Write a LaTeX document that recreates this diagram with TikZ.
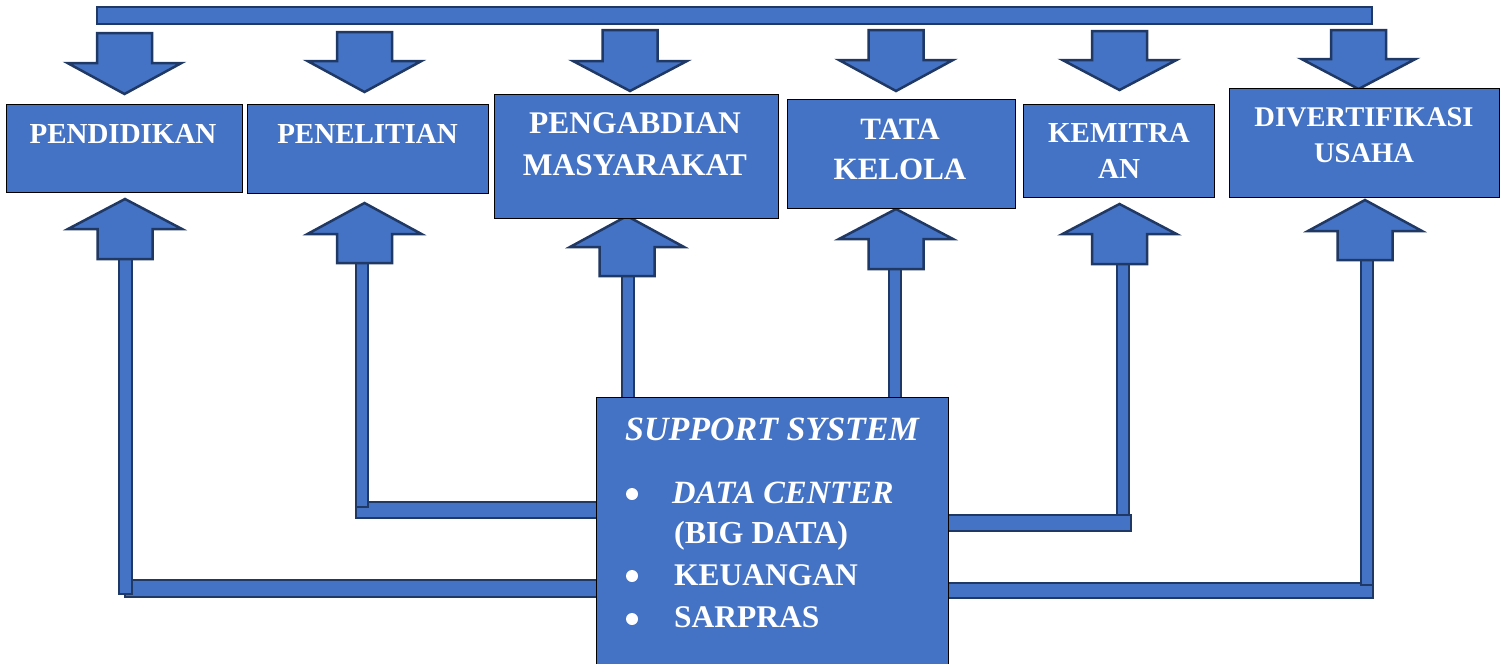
\documentclass[tikz,border=0pt]{standalone}
\usepackage{fontspec}
\setmainfont{Liberation Serif}
\definecolor{fillblue}{HTML}{4472C4}
\definecolor{navy}{HTML}{1F3864}
\tikzset{
  blockarrow/.style={fill=fillblue, draw=navy, line width=2.5pt, line join=miter},
  pipe/.style={fill=fillblue, draw=navy, line width=2pt},
  box/.style={fill=fillblue, draw=black, line width=1.2pt, inner sep=0pt, anchor=north west},
  lbl/.style={text=white, inner sep=0pt, anchor=base, font=\bfseries},
  lblw/.style={text=white, inner sep=0pt, anchor=base west, font=\bfseries},
  bulletdot/.style={circle, fill=white, inner sep=0pt, minimum size=12pt},
}
% block arrow: centre x, tail y, wing y, tip y
\newcommand\blockarr[4]{\draw[blockarrow] ({#1-27.5},#2) -- ({#1+27.5},#2) -- ({#1+27.5},#3) -- ({#1+57},#3) -- (#1,#4) -- ({#1-57},#3) -- ({#1-27.5},#3) -- cycle;}
\newcommand\fs[1]{\fontsize{#1}{#1}\selectfont}
\begin{document}
\begin{tikzpicture}[x=1pt,y=-1pt]
\useasboundingbox (0,0) rectangle (1505,664);
\clip (0,0) rectangle (1505,664);

% top bar
\draw[pipe, line width=2.5pt] (97,7) rectangle (1372,24);

% down arrows
\blockarr{124.5}{33}{63}{94}
\blockarr{364.5}{32}{61}{92}
\blockarr{630}{30}{61}{91}
\blockarr{896}{30}{60}{91}
\blockarr{1119.5}{31}{60}{90}
\blockarr{1358.5}{30}{59}{89}

% horizontal pipes
\draw[pipe] (125,580) rectangle (597,597);
\draw[pipe] (356,502) rectangle (597,518);
\draw[pipe] (948,515) rectangle (1131,531);
\draw[pipe] (948,583) rectangle (1373,598);
% vertical pipes
\draw[pipe] (119,259) rectangle (132,594);
\draw[pipe] (356,263) rectangle (368,507);
\draw[pipe] (622,276) rectangle (634,400);
\draw[pipe] (889,269) rectangle (901,400);
\draw[pipe] (1117,264) rectangle (1129,515);
\draw[pipe] (1361,260) rectangle (1373,585);

% up arrows
\blockarr{125}{259}{229}{199}
\blockarr{364.5}{263}{234}{203}
\blockarr{627}{276}{247}{216}
\blockarr{896}{269}{239}{209}
\blockarr{1119.5}{264}{234}{204}
\blockarr{1365}{260}{231}{200}

% boxes
\node[box, minimum width=236pt, minimum height=88pt] (b1) at (6,104) {};
\node[box, minimum width=241pt, minimum height=89pt] (b2) at (247,104) {};
\node[box, minimum width=284pt, minimum height=124pt] (b3) at (494,94) {};
\node[box, minimum width=228pt, minimum height=109pt] (b4) at (787,99) {};
\node[box, minimum width=191pt, minimum height=93pt] (b5) at (1023,104) {};
\node[box, minimum width=270pt, minimum height=109pt] (b6) at (1229,88) {};
\node[box, minimum width=352pt, minimum height=280pt] (sup) at (596,397) {};

% labels
\node[lbl] (t1) at (123,143) {\fs{29}PENDIDIKAN};
\node[lbl] (t2) at (367.5,143) {\fs{29}PENELITIAN};
\node[lbl] (t3a) at (635,133) {\fs{31.5}PENGABDIAN};
\node[lbl] (t3b) at (635,175) {\fs{31.5}MASYARAKAT};
\node[lbl] (t4a) at (900,139) {\fs{31}TATA};
\node[lbl] (t4b) at (900,179) {\fs{31}KELOLA};
\node[lbl] (t5a) at (1119,142) {\fs{29}KEMITRA};
\node[lbl] (t5b) at (1119,178) {\fs{29}AN};
\node[lbl] (t6a) at (1364,126) {\fs{28.5}DIVERTIFIKASI};
\node[lbl] (t6b) at (1364,162) {\fs{28.5}USAHA};

\node[lbl] (s0) at (772,440) {\fs{34}\itshape SUPPORT SYSTEM};
\node[bulletdot] (bu1) at (632,494) {};
\node[bulletdot] (bu2) at (632,576) {};
\node[bulletdot] (bu3) at (632,619) {};
\node[lblw] (s1) at (672,503) {\fs{32.5}\itshape DATA CENTER};
\node[lblw] (s2) at (674,543) {\fs{32}(BIG DATA)};
\node[lblw] (s3) at (674,585) {\fs{31.5}KEUANGAN};
\node[lblw] (s4) at (674,627) {\fs{31.5}SARPRAS};
\end{tikzpicture}
\end{document}
